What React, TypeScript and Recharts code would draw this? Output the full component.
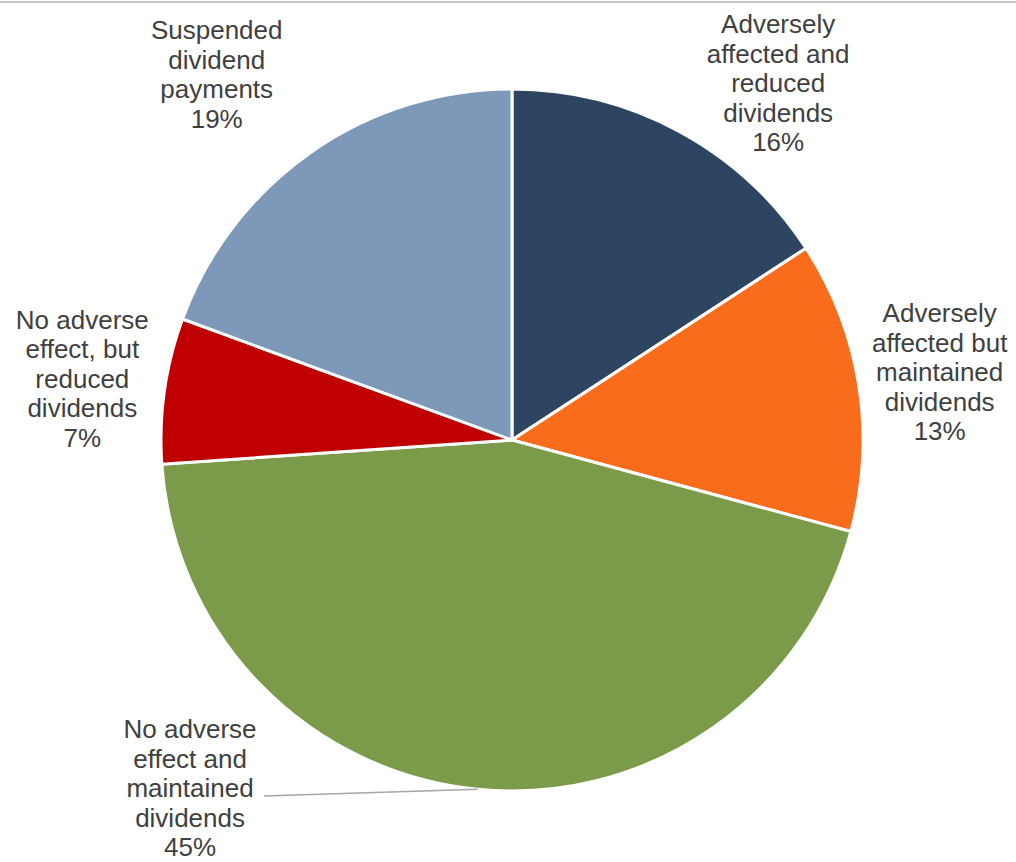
import React from "react";
import { PieChart, Pie, Cell } from "recharts";

const categories = [
  "Adversely affected and reduced dividends",
  "Adversely affected but maintained dividends",
  "No adverse effect and maintained dividends",
  "No adverse effect, but reduced dividends",
  "Suspended dividend payments",
];
const shares = [15.8, 13.4, 44.7, 6.7, 19.4];
const labelLines = [
  ["Adversely", "affected and", "reduced", "dividends"],
  ["Adversely", "affected but", "maintained", "dividends"],
  ["No adverse", "effect and", "maintained", "dividends"],
  ["No adverse", "effect, but", "reduced", "dividends"],
  ["Suspended", "dividend", "payments"],
];
const colors = ["#2D4561", "#F96C1B", "#7B9A4A", "#C00000", "#7E98B9"];

// where each label sits: distance from centre and angle nudge from the slice middle
const labelPlacement = [
  { r: 445, shift: -8.3, leader: false },
  { r: 433, shift: 0, leader: false },
  { r: 474, shift: -37.2, leader: true },
  { r: 434, shift: 0, leader: false },
  { r: 470, shift: 4, leader: false },
];

const data = categories.map((name, i) => ({ name, value: shares[i] }));

const RADIAN = Math.PI / 180;
const FONT = 26;
const LINE_H = 29.5;

function renderLabel(props: any) {
  const { cx, cy, midAngle, outerRadius, index, value } = props;
  const place = labelPlacement[index];
  const ang = midAngle + place.shift;
  const x = cx + place.r * Math.cos(-ang * RADIAN);
  const y = cy + place.r * Math.sin(-ang * RADIAN);
  const lines = [...labelLines[index], `${Math.round(value)}%`];
  const top = y - ((lines.length - 1) / 2) * LINE_H + FONT * 0.35;
  let leader = null;
  if (place.leader) {
    const sx = cx + outerRadius * Math.cos(-midAngle * RADIAN);
    const sy = cy + outerRadius * Math.sin(-midAngle * RADIAN);
    leader = (
      <line x1={sx} y1={sy} x2={x + 74} y2={y + 8} stroke="#A6A6A6" strokeWidth={1.5} />
    );
  }
  return (
    <g key={`lbl-${index}`}>
      {leader}
      <text
        x={x}
        y={top}
        textAnchor="middle"
        fill="#404040"
        fontSize={FONT}
        fontFamily="'Liberation Sans', Arial, sans-serif"
      >
        {lines.map((ln, j) => (
          <tspan key={j} x={x} y={top + j * LINE_H}>
            {ln}
          </tspan>
        ))}
      </text>
    </g>
  );
}

export default function App() {
  return (
    <div
      style={{
        position: "absolute",
        left: 0,
        top: 0,
        width: 1016,
        height: 862,
        background: "#fff",
      }}
    >
      <div
        style={{
          position: "absolute",
          left: 0,
          top: 1,
          width: 1016,
          borderTop: "2px solid #C4C4C4",
        }}
      />
      <PieChart width={1016} height={862} margin={{ top: 0, right: 0, bottom: 0, left: 0 }}>
        <Pie
          data={data}
          dataKey="value"
          nameKey="name"
          cx={512}
          cy={440}
          outerRadius={351}
          startAngle={90}
          endAngle={-270}
          stroke="#FFFFFF"
          strokeWidth={3}
          label={renderLabel}
          labelLine={false}
          isAnimationActive={false}
        >
          {data.map((d, i) => (
            <Cell key={d.name} fill={colors[i]} />
          ))}
        </Pie>
      </PieChart>
    </div>
  );
}
